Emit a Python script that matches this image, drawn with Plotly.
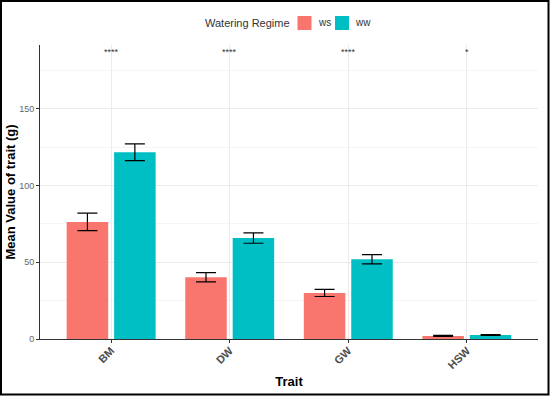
import plotly.graph_objects as go

traits = ["BM", "DW", "GW", "HSW"]
ws_mean = [76.3, 40.2, 30.0, 2.0]
ws_err = [5.7, 3.0, 2.3, 0.3]
ww_mean = [121.7, 65.8, 52.0, 2.6]
ww_err = [5.5, 3.4, 3.0, 0.3]
signif = ["****", "****", "****", "*"]
signif_y = 187
groups = ["ws", "ww"]
colors = ["#F8766D", "#00BFC4"]

L, R, T, B = 40, 12, 45, 57
W, H = 550, 396
PW, PH = W - L - R, H - T - B


def px_x(p):
    return (p - L) / PW


def px_y(p):
    return (H - B - p) / PH


fig = go.Figure()
fig.add_trace(go.Bar(
    x=traits, y=ws_mean, name=groups[0], marker=dict(color=colors[0], line=dict(width=0)),
    error_y=dict(type="data", array=ws_err, color="black", thickness=1.2, width=10),
))
fig.add_trace(go.Bar(
    x=traits, y=ww_mean, name=groups[1], marker=dict(color=colors[1], line=dict(width=0)),
    error_y=dict(type="data", array=ww_err, color="black", thickness=1.2, width=10),
))

for t, s in zip(traits, signif):
    fig.add_annotation(x=t, y=signif_y, text=s, showarrow=False,
                       font=dict(size=9, color="#333333"), yanchor="middle")

# legend (drawn manually for ggplot-like compact layout)
fig.add_annotation(xref="paper", yref="paper", x=px_x(292), y=px_y(23),
                   xanchor="right", yanchor="middle", text="Watering Regime",
                   showarrow=False, font=dict(size=11, color="#333333"))
for i, (g, c) in enumerate(zip(groups, colors)):
    x0 = 297.5 + i * 37.5
    fig.add_shape(type="rect", xref="paper", yref="paper",
                  x0=px_x(x0), x1=px_x(x0 + 14), y0=px_y(30), y1=px_y(16),
                  fillcolor=c, line=dict(width=0))
    fig.add_annotation(xref="paper", yref="paper", x=px_x(x0 + 18), y=px_y(23),
                       xanchor="left", yanchor="middle", text=g, showarrow=False,
                       font=dict(size=10, color="#333333"))

# figure border
fig.add_shape(type="rect", xref="paper", yref="paper",
              x0=px_x(1), x1=px_x(548.5), y0=px_y(394.5), y1=px_y(1),
              line=dict(color="black", width=2), fillcolor="rgba(0,0,0,0)", layer="above")

fig.update_layout(
    width=W, height=H,
    margin=dict(l=L, r=R, t=T, b=B, autoexpand=False),
    paper_bgcolor="white", plot_bgcolor="white",
    font=dict(family="Liberation Sans, Arial, sans-serif", color="#4d4d4d"),
    barmode="group", bargap=0.2, bargroupgap=0.125,
    showlegend=False,
    xaxis=dict(
        type="category", range=[-0.6, 3.6], automargin=False,
        showgrid=True, gridcolor="#ebebeb", gridwidth=1,
        showline=True, linecolor="#333333", linewidth=1,
        ticks="outside", ticklen=3, tickcolor="#333333",
        tickangle=-45, tickfont=dict(size=11, color="#4d4d4d", weight="bold"),
        ticklabelstandoff=-3,
        title=dict(text="<b>Trait</b>", font=dict(size=13, color="black"), standoff=6),
    ),
    yaxis=dict(
        range=[0, 191.6], tickvals=[0, 50, 100, 150], automargin=False,
        showgrid=True, gridcolor="#ebebeb", gridwidth=1,
        minor=dict(tickvals=[25, 75, 125, 175], showgrid=True, gridcolor="#f5f5f5", gridwidth=1, ticks=""),
        showline=True, linecolor="#333333", linewidth=1,
        ticks="outside", ticklen=3, tickcolor="#333333",
        tickfont=dict(size=9, color="#666666"), zeroline=False,
        title=dict(text="<b>Mean Value of trait (g)</b>", font=dict(size=13, color="black"), standoff=0),
    ),
)

fig.write_html("out.html", config={"displayModeBar": False},
               post_script="document.body.style.margin='0';document.body.style.padding='0';")
